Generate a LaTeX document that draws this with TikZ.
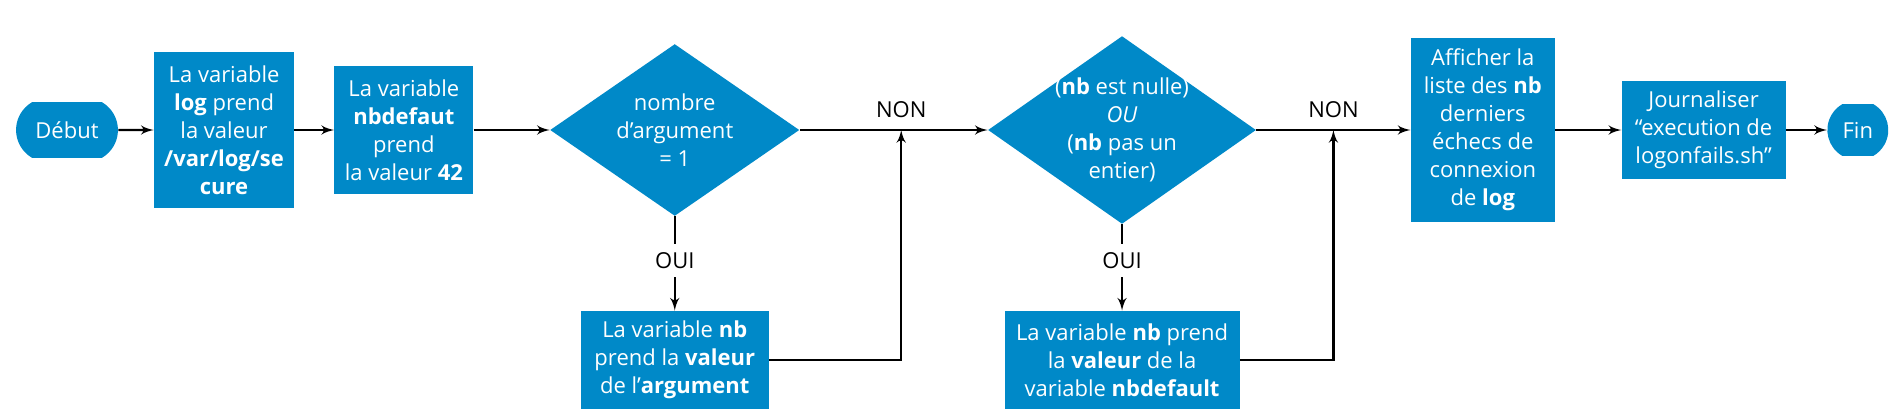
\documentclass[tikz,border=0pt]{standalone}
\usepackage{fontspec}
\setmainfont{Open Sans}
\usetikzlibrary{shapes,arrows,positioning,calc}
\definecolor{flowblue}{RGB}{0,137,200}
\begin{document}
\begin{tikzpicture}[auto,font=\fontsize{11}{14}\selectfont,
  line/.style={draw, line width=1.2pt, -latex', shorten >= 0pt},
  block/.style={rectangle, fill=flowblue, text=white, align=center, inner sep=0pt},
  decision/.style={diamond, fill=flowblue, text=white, align=center, aspect=1.45, inner sep=-2pt},
  terminal/.style={rounded rectangle, rounded rectangle arc length=120, fill=flowblue, text=white, inner sep=0pt},
  answer/.style={inner sep=4pt}]
\useasboundingbox (-33.5pt,65pt) rectangle (914.5pt,-142pt);
\node [terminal, minimum width=1.79cm, minimum height=0.98cm] (debut) {Début};
\node [block, right of = debut, xshift=1.76cm, minimum width=2.46cm, minimum height=2.74cm] (logvar) {La variable\\\textbf{log} prend\\la valeur\\\textbf{/var/log/se}\\\textbf{cure}};
\node [block, right of = logvar, xshift=2.16cm, minimum width=2.44cm, minimum height=2.25cm] (nbdefaut) {La variable\\\textbf{nbdefaut}\\prend\\la valeur \textbf{42}};
\node [decision, right of = nbdefaut, xshift=3.76cm, minimum width=4.38cm, minimum height=3.02cm] (argtest) {nombre\\d’argument\\= 1};
\node [decision, right of = argtest, xshift=6.86cm, minimum width=4.71cm, minimum height=3.30cm] (nbtest) {(\textbf{nb} est nulle)\\\textit{OU}\\(\textbf{nb} pas un\\entier)};
\node [block, right of = nbtest, xshift=5.34cm, minimum width=2.53cm, minimum height=3.25cm] (affiche) {Afficher la\\liste des \textbf{nb}\\derniers\\échecs de\\connexion\\de \textbf{log}};
\node [block, right of = affiche, xshift=2.88cm, minimum width=2.88cm, minimum height=1.72cm] (journal) {Journaliser\\“execution de\\logonfails.sh”};
\node [terminal, right of = journal, xshift=1.71cm, minimum width=1.07cm, minimum height=0.91cm] (fin) {Fin};
\node [answer, below of = argtest, yshift=-1.30cm] (ouiarg) {OUI};
\node [answer, below of = nbtest, yshift=-1.30cm] (ouinb) {OUI};
\node [block, below of = argtest, yshift=-3.04cm, minimum width=3.30cm, minimum height=1.72cm] (nbarg) {La variable \textbf{nb}\\prend la \textbf{valeur}\\de l’\textbf{argument}};
\node [block, below of = nbtest, yshift=-3.04cm, minimum width=4.13cm, minimum height=1.72cm] (nbdef) {La variable \textbf{nb} prend\\la \textbf{valeur} de la\\variable \textbf{nbdefault}};
\coordinate (joinarg) at ($(argtest.east)!0.54!(nbtest.west)$);
\coordinate (joinnb) at ($(nbtest.east)!0.5!(affiche.west)$);
\node [answer, above=2pt of joinarg] (nonarg) {NON};
\node [answer, above=2pt of joinnb] (nonnb) {NON};
\draw [line width=1.2pt] (argtest) -- (ouiarg);
\draw [line width=1.2pt] (nbtest) -- (ouinb);

\begin{scope}[every path/.style=line]
  \path (debut) -- (logvar);
  \path (logvar) -- (nbdefaut);
  \path (nbdefaut) -- (argtest);
  \path (argtest) -- (nbtest);
  \path (nbtest) -- (affiche);
  \path (affiche) -- (journal);
  \path (journal) -- (fin);
  \path (ouiarg) -- (nbarg);
  \path (ouinb) -- (nbdef);
  \path (nbarg) -| (joinarg);
  \path (nbdef) -| (joinnb);
\end{scope}
\end{tikzpicture}
\end{document}
